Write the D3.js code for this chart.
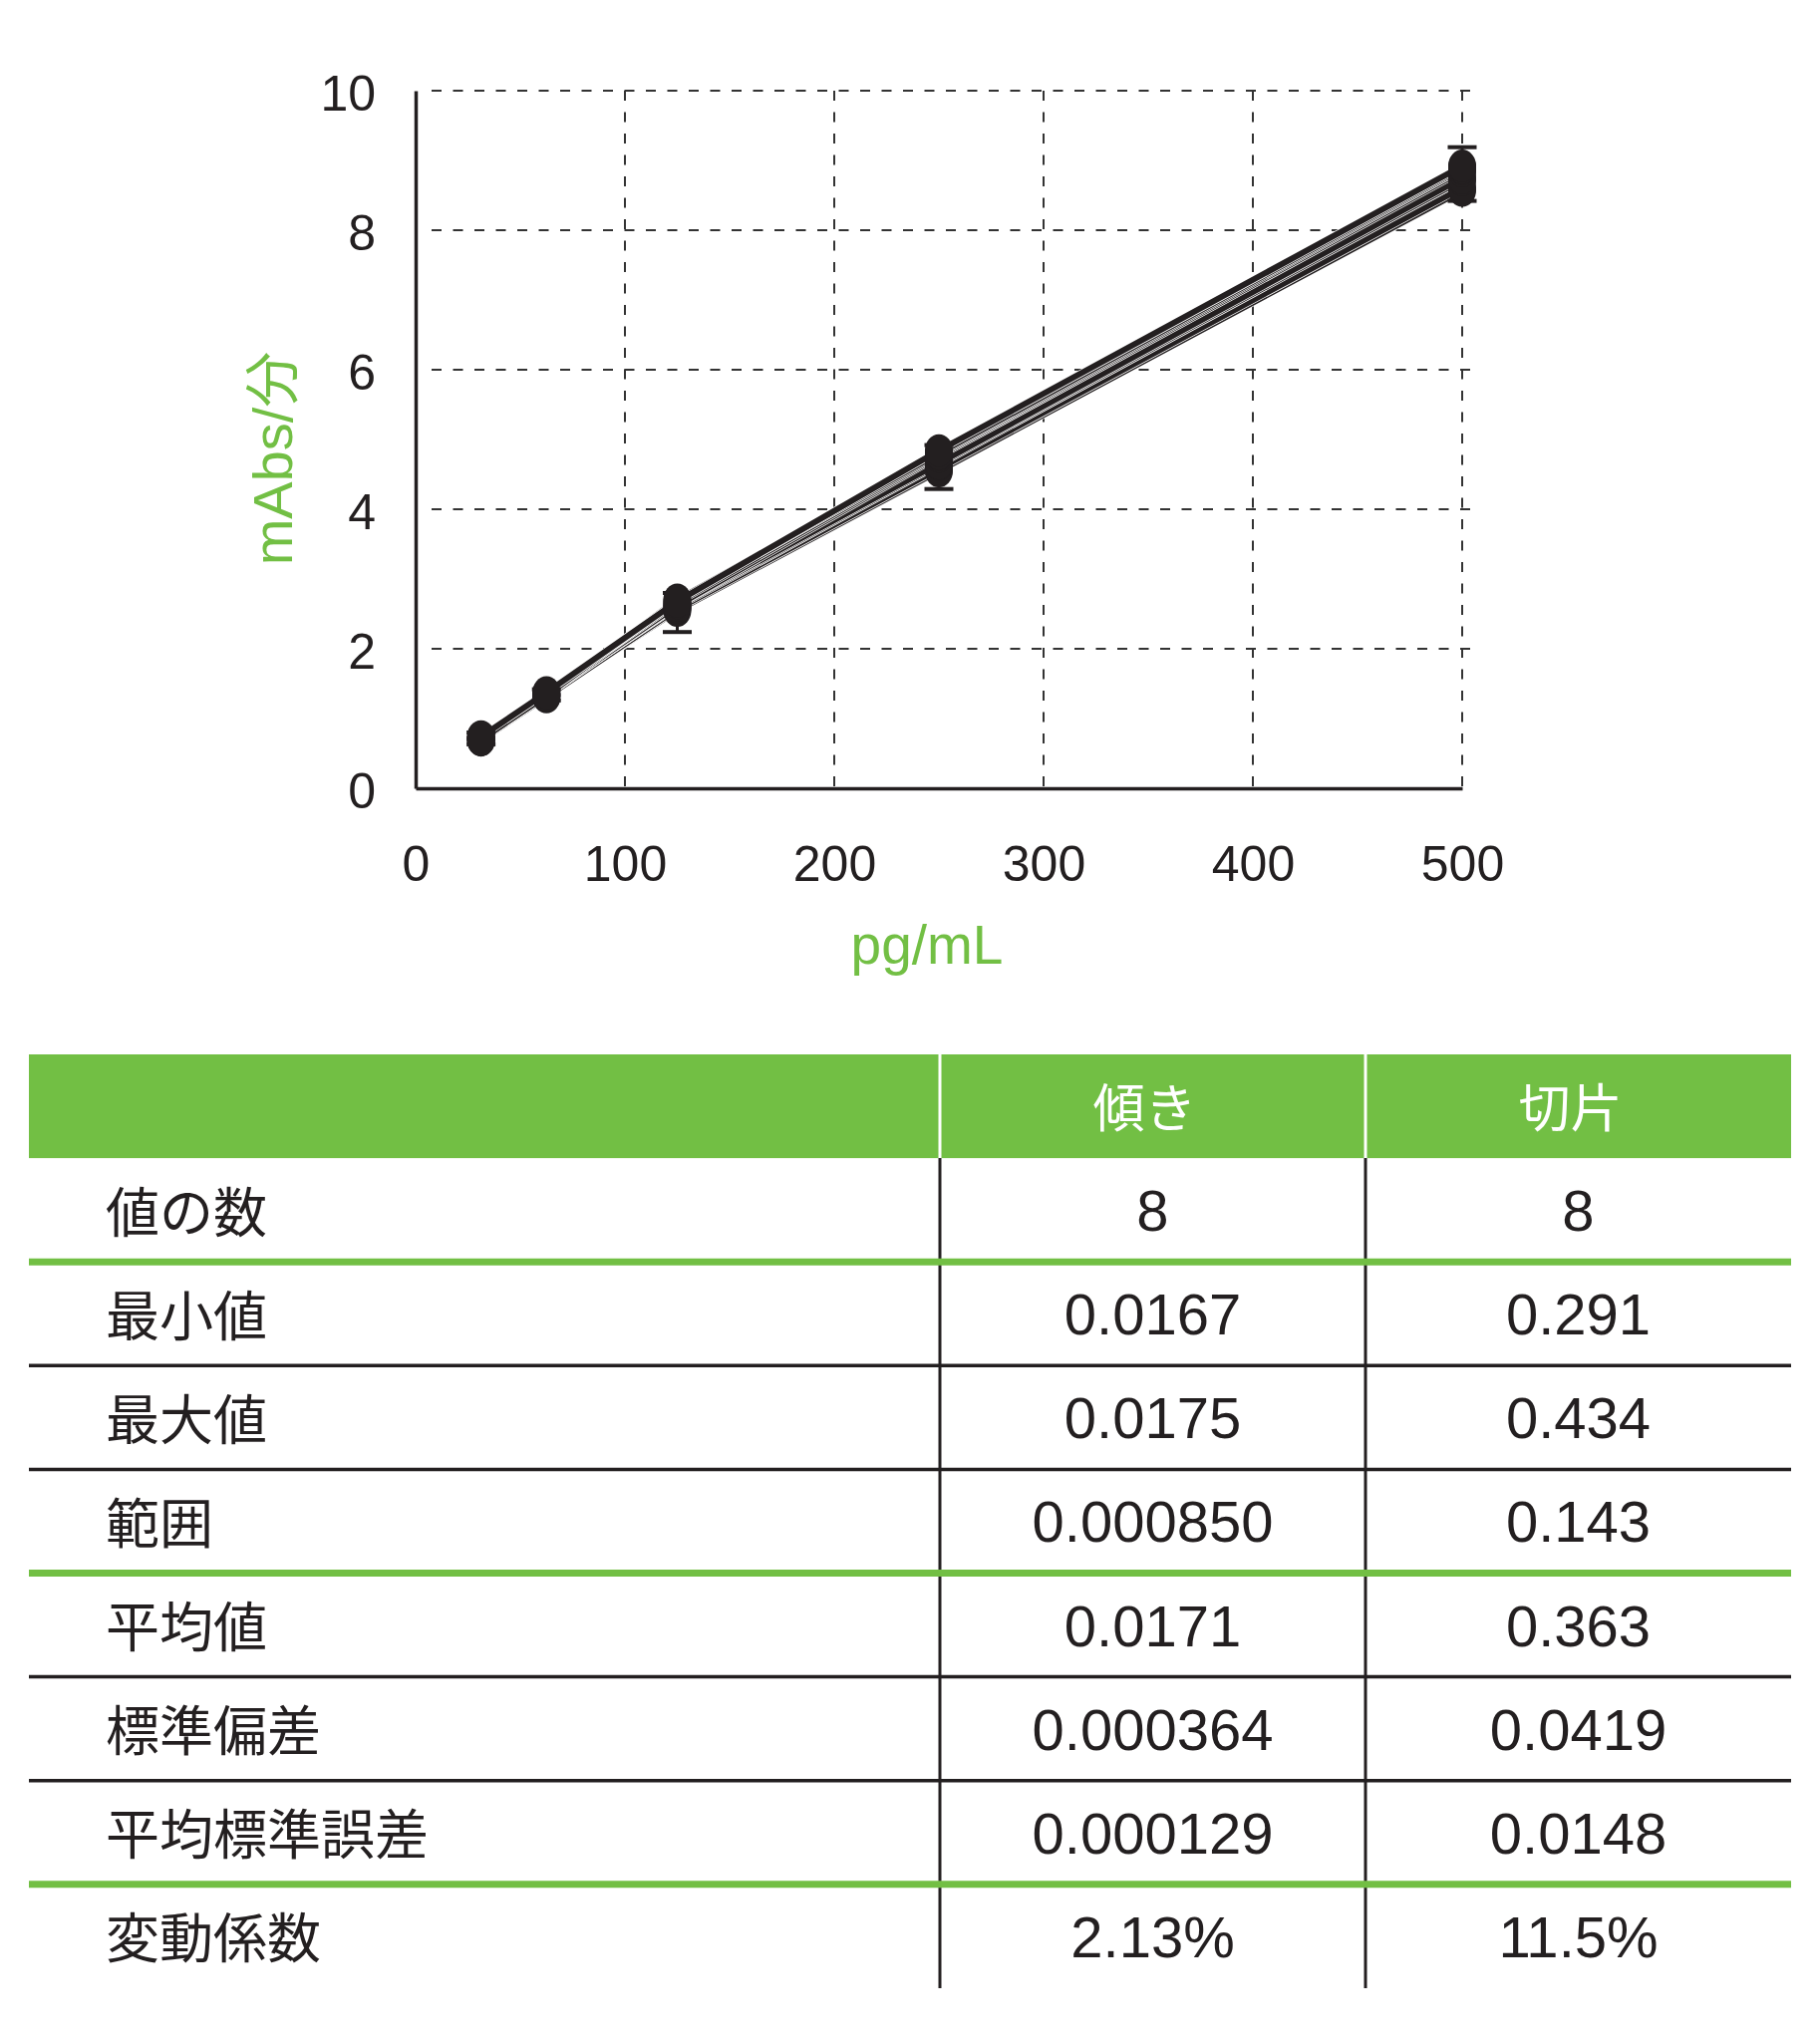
<!DOCTYPE html>
<html>
<head>
<meta charset="utf-8">
<title>mAbs/分 vs pg/mL</title>
<script src="https://d3js.org/d3.v7.min.js"></script>
<style>
  body { margin: 0; background: #fff; }
</style>
</head>
<body>
<script>

// concentrations (pg/mL) and the 8 replicate curves (mAbs/min)
var conc = [31.25, 62.5, 125, 250, 500];
var curveA = [0.70, 1.32, 2.55, 4.55, 8.57];
var curveB = [0.69, 1.31, 2.57, 4.58, 8.61];
var curveC = [0.72, 1.35, 2.60, 4.64, 8.72];
var curveD = [0.70, 1.33, 2.62, 4.66, 8.75];
var curveE = [0.71, 1.34, 2.62, 4.76, 8.85];
var curveF = [0.73, 1.36, 2.66, 4.78, 8.88];
var curveG = [0.70, 1.33, 2.70, 4.80, 8.90];
var curveH = [0.74, 1.37, 2.68, 4.84, 8.92];
var curves = [curveA, curveB, curveC, curveD, curveE, curveF, curveG, curveH];

// error bar ends at each concentration
var errLow  = [0.63, 1.26, 2.24, 4.29, 8.42];
var errHigh = [0.80, 1.42, 2.80, 4.92, 9.19];

var xTicks = [0, 100, 200, 300, 400, 500];
var yTicks = [0, 2, 4, 6, 8, 10];
var xTitle = "pg/mL";
var yTitle = "mAbs/分";

// table
var colHeads = ["", "傾き", "切片"];
var rowLabels = ["値の数", "最小値", "最大値", "範囲", "平均値", "標準偏差", "平均標準誤差", "変動係数"];
var slopeVals = ["8", "0.0167", "0.0175", "0.000850", "0.0171", "0.000364", "0.000129", "2.13%"];
var interceptVals = ["8", "0.291", "0.434", "0.143", "0.363", "0.0419", "0.0148", "11.5%"];
var greenRules = [0, 3, 6]; // rows followed by a green rule

var green = "#72bf44",
    ink = "#231f20",
    width = 1826,
    height = 2048;

var svg = d3.select("body").append("svg")
    .attr("width", width)
    .attr("height", height);

svg.append("rect").attr("width", width).attr("height", height).attr("fill", "#fff");

var x = d3.scaleLinear().domain([0, 500]).range([417, 1467]);
var y = d3.scaleLinear().domain([0, 10]).range([791, 91]);

var plot = svg.append("g");

// dashed grid
plot.selectAll("line.hgrid")
  .data(yTicks.filter(function(d) { return d > 0; }))
  .enter().append("line")
  .attr("class", "hgrid")
  .attr("x1", x(0) + 16).attr("x2", x(500) + 10)
  .attr("y1", function(d) { return y(d); })
  .attr("y2", function(d) { return y(d); })
  .attr("stroke", "#333").attr("stroke-width", 2)
  .attr("stroke-dasharray", "10,11.5");

plot.selectAll("line.vgrid")
  .data(xTicks.filter(function(d) { return d > 0; }))
  .enter().append("line")
  .attr("class", "vgrid")
  .attr("x1", function(d) { return x(d); })
  .attr("x2", function(d) { return x(d); })
  .attr("y1", y(10)).attr("y2", y(0))
  .attr("stroke", "#333").attr("stroke-width", 2)
  .attr("stroke-dasharray", "10,11.5");

// axes
var xAxis = plot.append("g")
  .attr("transform", "translate(0," + y(0) + ")")
  .call(d3.axisBottom(x).tickValues(xTicks).tickSize(0).tickPadding(93));
xAxis.select(".domain").attr("stroke", ink).attr("stroke-width", 3.5);
xAxis.selectAll("text")
  .attr("font-family", "'Liberation Sans', Arial, sans-serif")
  .attr("font-size", 50)
  .attr("fill", ink)
  .attr("dy", 0);

var yAxis = plot.append("g")
  .attr("transform", "translate(" + x(0) + ",0)")
  .call(d3.axisLeft(y).tickValues(yTicks).tickSize(0).tickPadding(40));
yAxis.select(".domain").attr("stroke", ink).attr("stroke-width", 3.5);
yAxis.selectAll("text")
  .attr("font-family", "'Liberation Sans', Arial, sans-serif")
  .attr("font-size", 50)
  .attr("fill", ink)
  .attr("dy", "0.38em");

// axis titles
plot.append("text")
  .attr("x", 930).attr("y", 967)
  .attr("text-anchor", "middle")
  .attr("font-family", "'Liberation Sans', Arial, 'Noto Sans CJK JP', sans-serif")
  .attr("font-size", 55)
  .attr("fill", green)
  .text(xTitle);

plot.append("text")
  .attr("transform", "translate(293,460) rotate(-90)")
  .attr("text-anchor", "middle")
  .attr("font-family", "'Liberation Sans', Arial, 'Noto Sans CJK JP', sans-serif")
  .attr("font-size", 56)
  .attr("fill", green)
  .text(yTitle);

// curves
var line = d3.line()
  .x(function(d, i) { return x(conc[i]); })
  .y(function(d) { return y(d); });

var curveLayer = plot.append("g");
curves.forEach(function(c) {
  curveLayer.append("path").datum(c)
    .attr("d", line).attr("fill", "none")
    .attr("stroke", "#fff").attr("stroke-width", 7.5)
    .attr("stroke-linejoin", "round");
  curveLayer.append("path").datum(c)
    .attr("d", line).attr("fill", "none")
    .attr("stroke", ink).attr("stroke-width", 6)
    .attr("stroke-linejoin", "round");
});

// error bars
var eb = plot.append("g").selectAll("g")
  .data(conc)
  .enter().append("g");
eb.append("line")
  .attr("x1", function(d) { return x(d); })
  .attr("x2", function(d) { return x(d); })
  .attr("y1", function(d, i) { return y(errLow[i]); })
  .attr("y2", function(d, i) { return y(errHigh[i]); })
  .attr("stroke", ink).attr("stroke-width", 3);
eb.append("line")
  .attr("x1", function(d) { return x(d) - 14.5; })
  .attr("x2", function(d) { return x(d) + 14.5; })
  .attr("y1", function(d, i) { return y(errLow[i]); })
  .attr("y2", function(d, i) { return y(errLow[i]); })
  .attr("stroke", ink).attr("stroke-width", 4);
eb.append("line")
  .attr("x1", function(d) { return x(d) - 14.5; })
  .attr("x2", function(d) { return x(d) + 14.5; })
  .attr("y1", function(d, i) { return y(errHigh[i]); })
  .attr("y2", function(d, i) { return y(errHigh[i]); })
  .attr("stroke", ink).attr("stroke-width", 4);

// markers
var marks = plot.append("g");
curves.forEach(function(c) {
  marks.selectAll(null)
    .data(c)
    .enter().append("ellipse")
    .attr("cx", function(d, i) { return x(conc[i]); })
    .attr("cy", function(d) { return y(d); })
    .attr("rx", 14)
    .attr("ry", 16.5)
    .attr("fill", ink);
});

// ---- table ----
var colEdges = [29, 943, 1370, 1797];
var row = d3.scaleLinear().domain([0, 9]).range([1058, 1058 + 9 * 104.1]);
var table = svg.append("g");

table.append("rect")
  .attr("x", colEdges[0]).attr("y", row(0))
  .attr("width", colEdges[3] - colEdges[0])
  .attr("height", row(1) - row(0))
  .attr("fill", green);

// column dividers
[1, 2].forEach(function(k) {
  table.append("line")
    .attr("x1", colEdges[k]).attr("x2", colEdges[k])
    .attr("y1", row(0)).attr("y2", row(1))
    .attr("stroke", "#fff").attr("stroke-width", 3);
  table.append("line")
    .attr("x1", colEdges[k]).attr("x2", colEdges[k])
    .attr("y1", row(1)).attr("y2", row(9))
    .attr("stroke", ink).attr("stroke-width", 3);
});

// header texts
table.selectAll("text.head")
  .data(colHeads)
  .enter().append("text")
  .attr("class", "head")
  .attr("x", function(d, i) { return (colEdges[i] + colEdges[i + 1]) / 2 - 8; })
  .attr("y", (row(0) + row(1)) / 2 - 2)
  .attr("dominant-baseline", "central")
  .attr("text-anchor", "middle")
  .attr("font-family", "'Noto Sans CJK JP', sans-serif")
  .attr("font-size", 52)
  .attr("fill", "#fff")
  .text(function(d) { return d; });

// row rules
d3.range(rowLabels.length - 1).forEach(function(i) {
  var isGreen = greenRules.indexOf(i) >= 0;
  table.append("line")
    .attr("x1", colEdges[0]).attr("x2", colEdges[3])
    .attr("y1", row(i + 2)).attr("y2", row(i + 2))
    .attr("stroke", isGreen ? green : ink)
    .attr("stroke-width", isGreen ? 7 : 3.5);
});

// row labels
table.selectAll("text.lab")
  .data(rowLabels)
  .enter().append("text")
  .attr("class", "lab")
  .attr("x", 106)
  .attr("y", function(d, i) { return (row(i + 1) + row(i + 2)) / 2 - 1; })
  .attr("dominant-baseline", "central")
  .attr("font-family", "'Noto Sans CJK JP', sans-serif")
  .attr("font-size", 54)
  .attr("fill", ink)
  .text(function(d) { return d; });

// values
[slopeVals, interceptVals].forEach(function(vals, k) {
  table.selectAll(null)
    .data(vals)
    .enter().append("text")
    .attr("x", (colEdges[k + 1] + colEdges[k + 2]) / 2)
    .attr("y", function(d, i) { return (row(i + 1) + row(i + 2)) / 2 + 21; })
    .attr("text-anchor", "middle")
    .attr("font-family", "'Liberation Sans', Arial, sans-serif")
    .attr("font-size", 58)
    .attr("fill", ink)
    .text(function(d) { return d; });
});

</script>
</body>
</html>
